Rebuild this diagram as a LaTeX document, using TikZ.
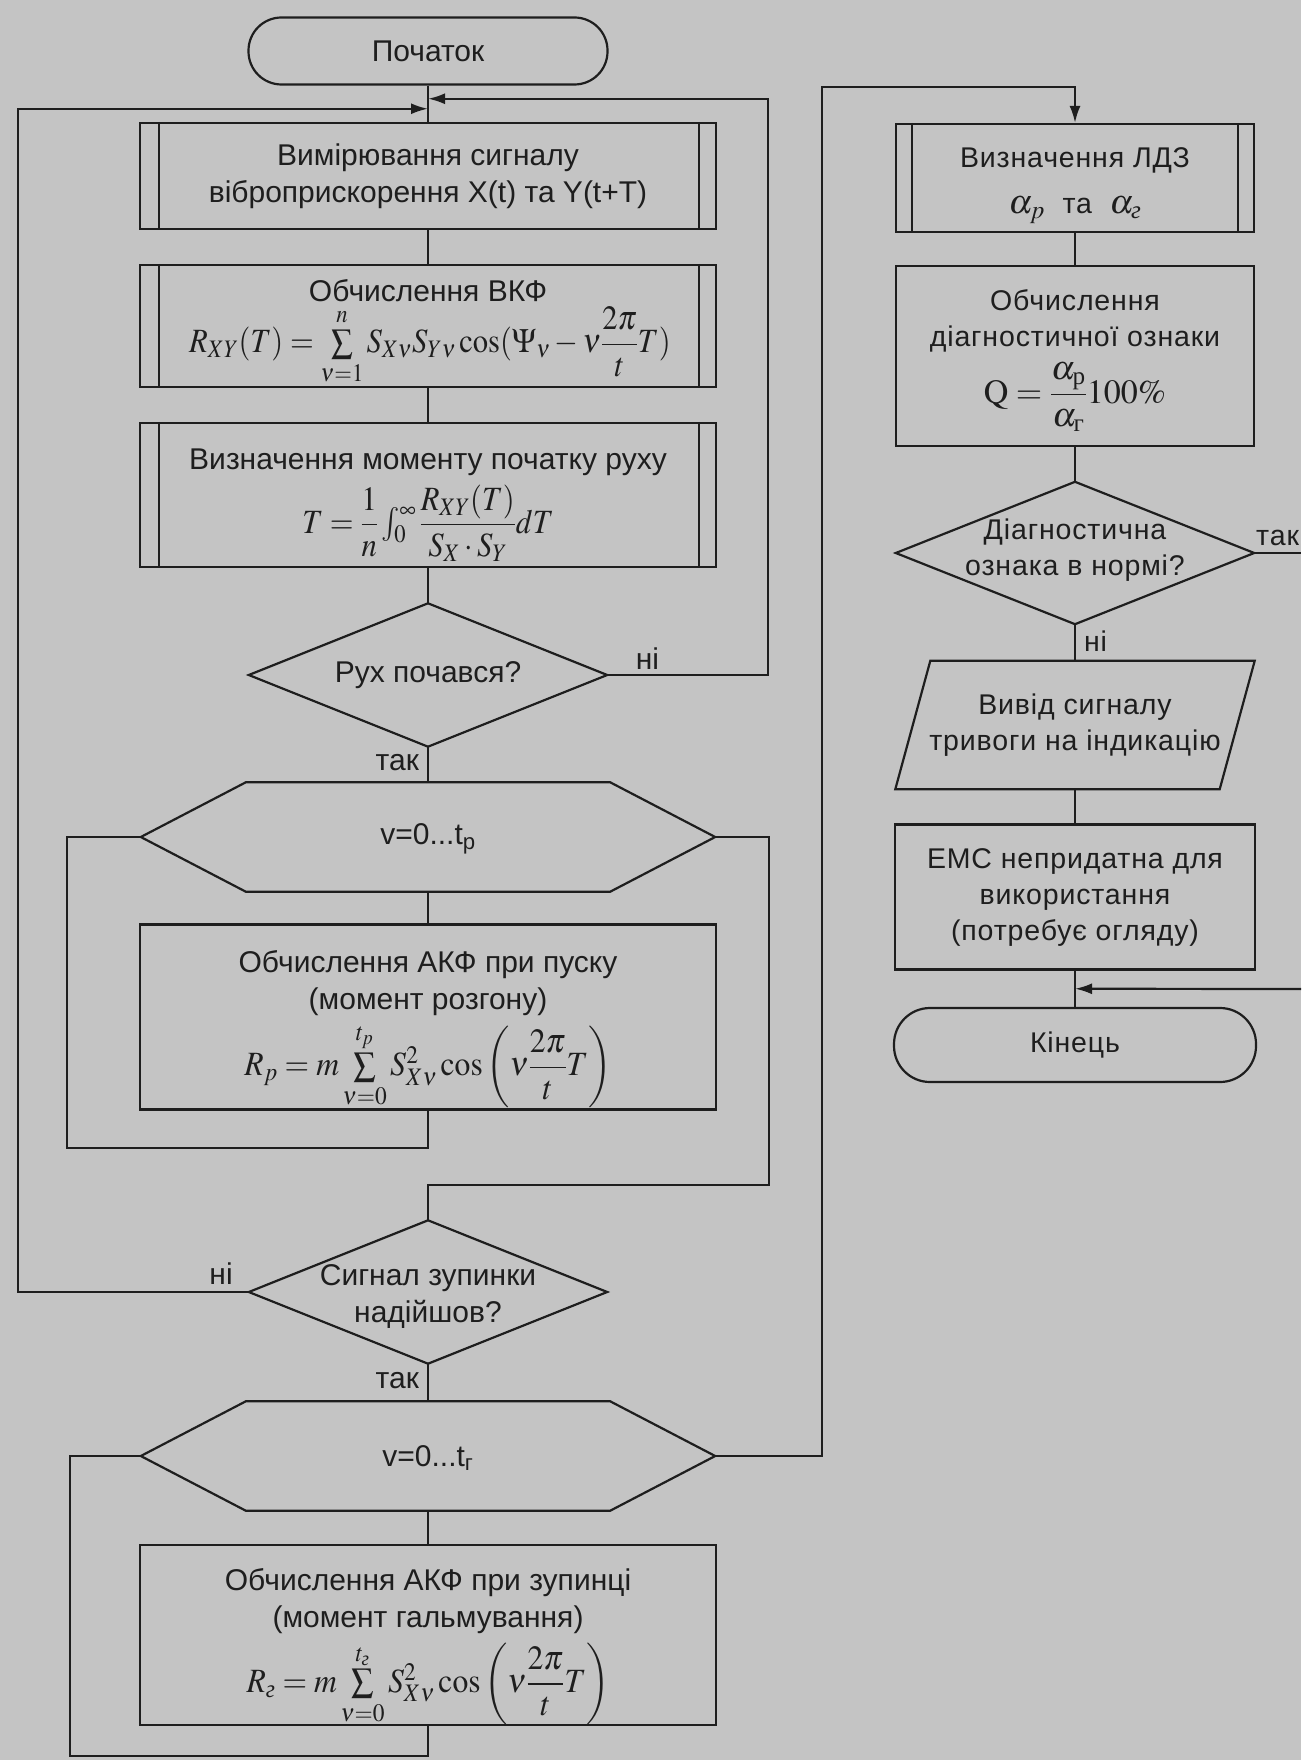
\documentclass[tikz,border=0pt]{standalone}
\usepackage{amsmath}
\usepackage{graphicx}
\usepackage{mathptmx}
\usepackage[no-math]{fontspec}
\setmainfont{Liberation Sans}
\newfontfamily\wide[LetterSpace=3]{Liberation Sans}
\newfontfamily\serif{Liberation Serif}
\usetikzlibrary{arrows.meta,calc}
\definecolor{paper}{RGB}{196,196,196}
\definecolor{ink}{RGB}{30,30,30}
\newcommand{\cyrg}{\text{\serif\itshape г}}
\newcommand{\cyrr}{\text{\serif р}}
\newcommand{\cyrgu}{\text{\serif г}}
\newcommand{\narrowf}[2]{\scalebox{#1}[1]{#2}}
\tikzset{
  line/.style={draw=ink, line width=2.2pt},
  arr/.style={line, -{Latex[length=17pt,width=11pt]}},
  box/.style={line, rectangle, inner sep=0pt, align=center, text=ink},
  ghost/.style={inner sep=0pt, align=center, text=ink},
  ltxt/.style={font=\fontsize{30}{37}\selectfont},
  rtxt/.style={font=\fontsize{28.5}{36}\selectfont\wide},
  mtxt/.style={font=\fontsize{34}{40}\selectfont},
}
\begin{document}
\begin{tikzpicture}[x=1pt,y=-1pt]
\path[use as bounding box, fill=paper] (0,0) rectangle (1301,1760);

% ---------- left column ----------
\node[box, rounded corners=33pt, minimum width=359, minimum height=67, ltxt] (start) at (428,51) {Початок};

\node[box, minimum width=576, minimum height=106, ltxt] (b1) at (428,176) {Вимірювання сигналу\\віброприскорення X(t) та Y(t+T)};

\node[box, minimum width=576, minimum height=122] (b2) at (428,326) {};
\node[ghost, ltxt] (b2t) at (428,291) {Обчислення ВКФ};
\node[ghost, mtxt] (b2f) at (430,346) {\narrowf{0.9}{$R_{XY}(T)=\sum\limits_{\nu=1}^{n}S_{X\nu}S_{Y\nu}\cos(\Psi_{\nu}-\nu\dfrac{2\pi}{t}T)$}};

\node[box, minimum width=576, minimum height=144] (b3) at (428,495) {};
\node[ghost, ltxt] (b3t) at (428,462) {Визначення моменту початку руху};
\node[ghost, mtxt] (b3f) at (428,523) {\narrowf{0.9}{$\displaystyle T=\frac{1}{n}\textstyle\int_{0}^{\infty}\displaystyle\frac{R_{XY}(T)}{S_X\cdot S_Y}dT$}};

\node[ghost, minimum width=358, minimum height=143, ltxt] (d1) at (428,675) {Рух почався?};
\draw[line] (d1.north) -- (d1.east) -- (d1.south) -- (d1.west) -- cycle;

\node[ghost, minimum width=574, minimum height=109] (h1) at (428,837) {};
\node[ghost, ltxt] (h1t) at (428,839) {v=0...t\textsubscript{р}};
\draw[line] (h1.west) -- ($(h1.north west)+(105,0)$) -- ($(h1.north east)+(-105,0)$) -- (h1.east)
  -- ($(h1.south east)+(-105,0)$) -- ($(h1.south west)+(105,0)$) -- cycle;

\node[box, minimum width=576, minimum height=185] (b4) at (428,1017) {};
\node[ghost, ltxt] (b4t) at (428,983) {Обчислення АКФ при пуску\\(момент розгону)};
\node[ghost, mtxt] (b4f) at (428,1066) {\narrowf{0.93}{$R_{p}=m\sum\limits_{\nu=0}^{t_p}S^{2}_{X\nu}\cos\left(\nu\dfrac{2\pi}{t}T\right)$}};

\node[ghost, minimum width=358, minimum height=143] (d2) at (428,1292) {};
\node[ghost, ltxt] (d2t) at (428,1296) {Сигнал зупинки\\надійшов?};
\draw[line] (d2.north) -- (d2.east) -- (d2.south) -- (d2.west) -- cycle;

\node[ghost, minimum width=574, minimum height=109] (h2) at (428,1456) {};
\node[ghost, ltxt] (h2t) at (428,1458) {v=0...t\textsubscript{г}};
\draw[line] (h2.west) -- ($(h2.north west)+(105,0)$) -- ($(h2.north east)+(-105,0)$) -- (h2.east)
  -- ($(h2.south east)+(-105,0)$) -- ($(h2.south west)+(105,0)$) -- cycle;

\node[box, minimum width=576, minimum height=180] (b5) at (428,1635) {};
\node[ghost, ltxt] (b5t) at (428,1601) {Обчислення АКФ при зупинці\\(момент гальмування)};
\node[ghost, mtxt] (b5f) at (428,1684) {\narrowf{0.93}{$R_{\cyrg}=m\sum\limits_{\nu=0}^{t_{\cyrg}}S^{2}_{X\nu}\cos\left(\nu\dfrac{2\pi}{t}T\right)$}};

% predefined-process side lines
\foreach \n in {b1,b2,b3}{
  \draw[line] ($(\n.north west)+(20,0)$) -- ($(\n.south west)+(20,0)$);
  \draw[line] ($(\n.north east)+(-18,0)$) -- ($(\n.south east)+(-18,0)$);
}

% ---------- right column ----------
\node[box, minimum width=358, minimum height=108] (r1) at (1075,178) {};
\node[ghost, rtxt] (r1t) at (1075,160) {Визначення ЛДЗ};
\node[ghost, rtxt] (r1f) at (1075,210) {{\fontsize{34}{40}\selectfont$\alpha_{p}$}\ \ та\ \ {\fontsize{34}{40}\selectfont$\alpha_{\cyrg}$}};
\draw[line] ($(r1.north west)+(17,0)$) -- ($(r1.south west)+(17,0)$);
\draw[line] ($(r1.north east)+(-17,0)$) -- ($(r1.south east)+(-17,0)$);

\node[box, minimum width=358, minimum height=180] (r2) at (1075,356) {};
\node[ghost, rtxt] (r2t) at (1075,321) {Обчислення\\діагностичної ознаки};
\node[ghost, mtxt] (r2f) at (1075,397) {$\displaystyle \mathrm{Q}=\frac{\alpha_{\cyrr}}{\alpha_{\cyrgu}}100\%$};

\node[ghost, minimum width=358, minimum height=142] (dR) at (1075,553) {};
\node[ghost, rtxt] (dRt) at (1075,550) {Діагностична\\ознака в нормі?};
\draw[line] (dR.north) -- (dR.east) -- (dR.south) -- (dR.west) -- cycle;

\node[ghost, minimum width=359, minimum height=128, rtxt] (pR) at (1075,725) {Вивід сигналу\\тривоги на індикацію};
\draw[line] ($(pR.north west)+(35,0)$) -- (pR.north east) -- ($(pR.south east)+(-35,0)$) -- (pR.south west) -- cycle;

\node[box, minimum width=360, minimum height=145, rtxt] (r3) at (1075,897) {ЕМС непридатна для\\використання\\(потребує огляду)};

\node[box, rounded corners=36pt, minimum width=362, minimum height=74, rtxt] (fin) at (1075,1045) {Кінець};

% ---------- connectors ----------
\coordinate (jR) at ($(start.south)!0.5!(b1.north)+(0,-5)$);
\coordinate (jL) at ($(start.south)!0.5!(b1.north)+(0,5)$);
\draw[line] (start.south) -- (b1.north);
\draw[line] (b1.south) -- (b2.north);
\draw[line] (b2.south) -- (b3.north);
\draw[line] (b3.south) -- (d1.north);
\draw[line] (d1.south) -- node[ghost, ltxt, left=8pt, pos=0.45] (l2) {так} (h1.north);
\draw[arr] (d1.east) -- node[ghost, ltxt, above=4pt, pos=0.25] (l1) {ні} ++(161,0) |- (jR);
\draw[line] (h1.south) -- (b4.north);
\draw[line] (b4.south) -- ++(0,37) -| ($(h1.west)+(-74,0)$) -- (h1.west);
\draw[line] (h1.east) -- ++(54,0) |- ($(d2.north)+(0,-35)$) -- (d2.north);
\draw[arr] (d2.west) -- node[ghost, ltxt, above=6pt, pos=0.12] (l3) {ні} ++(-231,0) |- (jL);
\draw[line] (d2.south) -- node[ghost, ltxt, left=8pt, pos=0.45] (l4) {так} (h2.north);
\draw[line] (h2.south) -- (b5.north);
\draw[line] (b5.south) -- ++(0,30) -| ($(h2.west)+(-71,0)$) -- (h2.west);
\draw[arr] (h2.east) -- ++(107,0) |- ($(r1.north)+(0,-36)$) -- (r1.north);

\draw[line] (r1.south) -- (r2.north);
\draw[line] (r2.south) -- (dR.north);
\coordinate (eOut) at (1301,553);
\draw[line] (dR.east) -- node[ghost, rtxt, above=6pt, pos=0.5] (l5) {так} (eOut);
\draw[line] (dR.south) -- node[ghost, rtxt, right=8pt, pos=0.45] (l6) {ні} (pR.north);
\draw[line] (pR.south) -- (r3.north);
\draw[line] (r3.south) -- (fin.north);
\coordinate (eIn) at (1301,989);
\coordinate (jE) at ($(r3.south)!0.5!(fin.north)$);
\draw[arr] (eIn) -- (jE);
\end{tikzpicture}
\end{document}
